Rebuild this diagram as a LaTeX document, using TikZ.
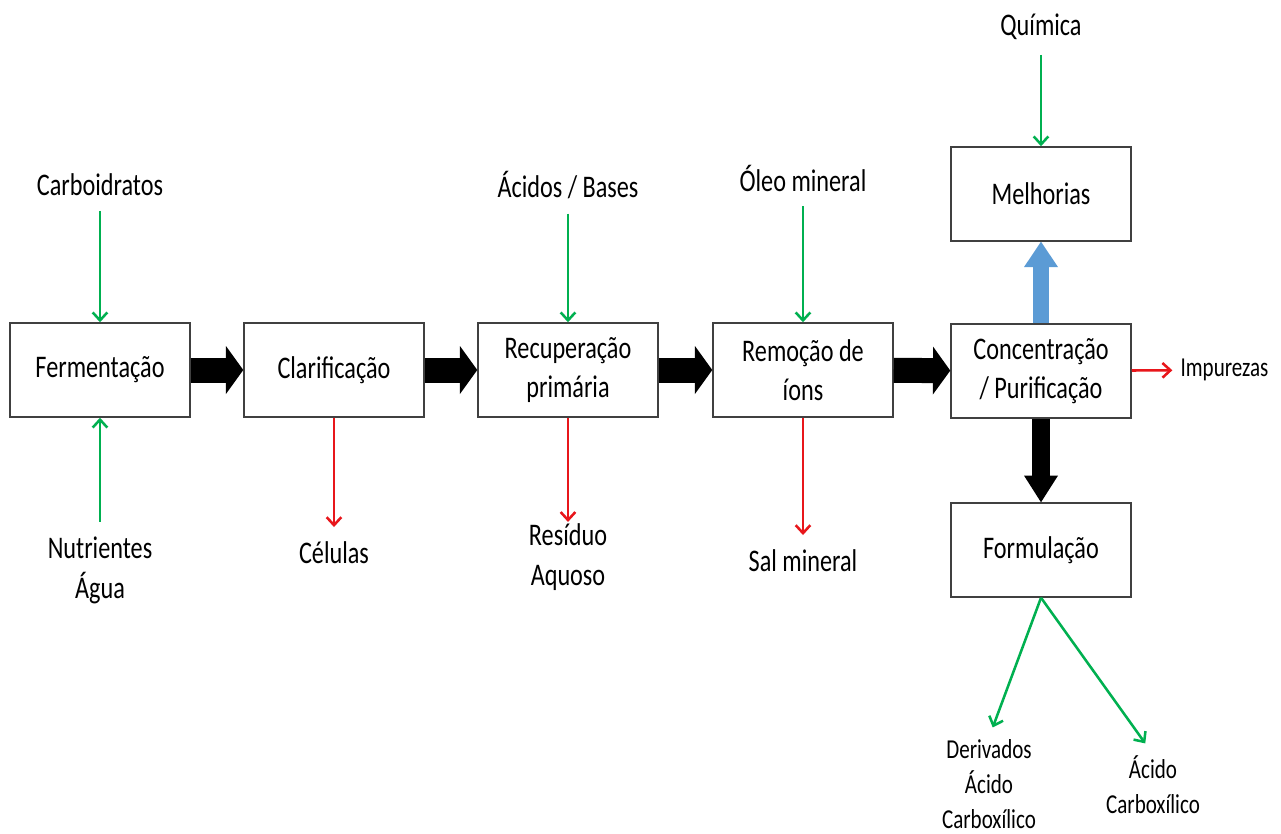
\documentclass[tikz,border=0pt]{standalone}
\usepackage{fontspec}
\setmainfont{Carlito}[FakeStretch=0.77]
\usepackage{xcolor}
\usetikzlibrary{arrows.meta}
\definecolor{bg}{HTML}{FFFFFF}
\definecolor{boxline}{HTML}{404040}
\definecolor{feed}{HTML}{00B050}
\definecolor{waste}{HTML}{E8161B}
\definecolor{upblue}{HTML}{5B9BD5}
\tikzset{
  stage/.style={draw=boxline, line width=1.1pt, minimum width=135pt, minimum height=70.5pt, align=center, inner sep=0pt, font=\fontsize{23.6}{29}\selectfont},
  lab/.style={align=center, inner sep=1pt, font=\fontsize{23.6}{30}\selectfont},
  labs/.style={align=center, inner sep=1pt, font=\fontsize{20.5}{27}\selectfont},
  feedin/.style={draw=feed, line width=1.9pt, shorten <=10pt, -{Straight Barb[length=6pt,width=11pt]}},
  wasteout/.style={draw=waste, line width=1.9pt, -{Straight Barb[length=6pt,width=11pt]}},
  flow/.style={line width=18.75pt, -{Triangle[length=13pt,width=36pt,line width=0pt]}},
  flowdown/.style={line width=13.5pt, -{Triangle[length=20pt,width=25.5pt,line width=0pt]}},
  flowup/.style={draw=upblue, line width=11.5pt, -{Triangle[length=19pt,width=25.5pt,line width=0pt]}},
}

\begin{document}
\begin{tikzpicture}[x=0.75pt, y=-0.75pt]
  \useasboundingbox[fill=bg] (0,0) rectangle (1281,834);

  % process stages
  \node[stage] (ferm)  at (100,370)  {Fermentação};
  \node[stage] (clar)  at (334,370)  {Clarificação};
  \node[stage] (recup) at (568,370)  {Recuperação\\primária};
  \node[stage] (remo)  at (803,370)  {Remoção de\\íons};
  \node[stage] (conc)  at (1041,371) {Concentração\\/ Purificação};
  \node[stage] (melh)  at (1041,194) {Melhorias};
  \node[stage] (form)  at (1041,550) {Formulação};

  \draw[flow] (ferm) -- (clar);
  \draw[flow] (clar) -- (recup);
  \draw[flow] (recup) -- (remo);
  \draw[flow] (remo) -- (conc);
  \draw[flowdown] (conc) -- (form);
  \draw[flowup] (conc) -- (melh);

  % inputs
  \node[lab] (carb) at (100,185)  {Carboidratos};
  \node[lab] (nutr) at (100,570)  {Nutrientes\\Água};
  \node[lab] (acbs) at (568,185)  {Ácidos / Bases};
  \node[lab] (oleo) at (803,178)  {Óleo mineral};
  \node[lab] (quim) at (1041,27)  {Química};
  \draw[feedin] (carb) -- (ferm);
  \draw[feedin] (nutr) -- (ferm);
  \draw[feedin] (acbs) -- (recup);
  \draw[feedin] (oleo) -- (remo);
  \draw[feedin] (quim) -- (melh);

  % outputs
  \node[lab] (cel)   at (334,553)  {Células};
  \node[lab] (resid) at (568,557)  {Resíduo\\Aquoso};
  \node[lab] (salm)  at (803,561)  {Sal mineral};
  \node[labs, anchor=west] (imp) at (1179,370) {Impurezas};
  \draw[wasteout, shorten >=10pt] (clar) -- (cel);
  \draw[wasteout] (recup) -- (resid);
  \draw[wasteout, shorten >=10pt] (remo) -- (salm);
  \draw[wasteout, shorten >=5pt] (conc) -- (imp);

  % products
  \node[labs, font=\fontsize{20.5}{26.5}\selectfont] (deriv) at (989,784) {Derivados\\Ácido\\Carboxílico};
  \node[labs, font=\fontsize{20.5}{26.5}\selectfont] (acid)  at (1153,785) {Ácido\\Carboxílico};
  \draw[feedin, shorten <=0pt, shorten >=8pt] (form.south) -- (deriv.north);
  \draw[feedin, shorten <=0pt, shorten >=10pt] (form.south) -- (acid.north);
\end{tikzpicture}
\end{document}
